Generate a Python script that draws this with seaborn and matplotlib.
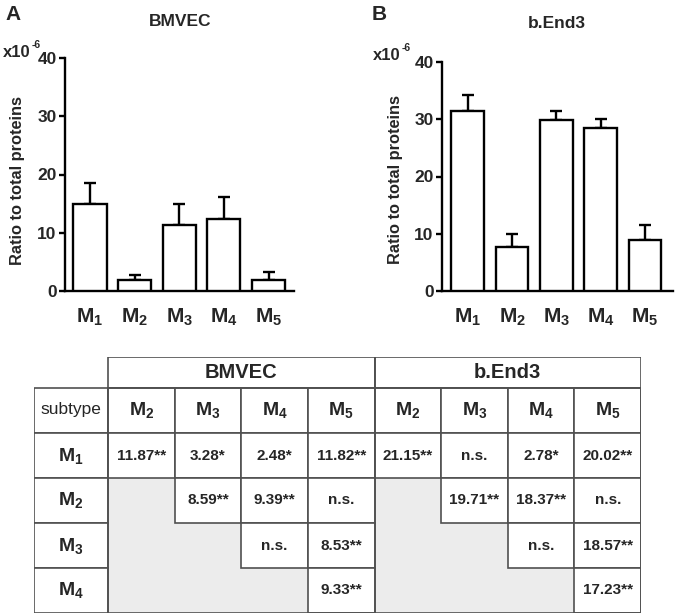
import matplotlib
matplotlib.use('Agg')
import matplotlib.pyplot as plt
from matplotlib import font_manager
from matplotlib.patches import Rectangle
import seaborn as sns
import pandas as pd
import numpy as np

# ---------------- data ----------------
subtypes = ['M1', 'M2', 'M3', 'M4', 'M5']
tick_labels = [r'$\mathbf{M_1}$', r'$\mathbf{M_2}$', r'$\mathbf{M_3}$',
               r'$\mathbf{M_4}$', r'$\mathbf{M_5}$']
bmvec_mean = [14.9, 1.9, 11.4, 12.3, 1.9]
bmvec_err = [3.7, 0.9, 3.5, 3.8, 1.3]
bend3_mean = [31.5, 7.6, 29.9, 28.4, 8.9]
bend3_err = [2.7, 2.4, 1.5, 1.7, 2.6]
yticks = [0, 10, 20, 30, 40]

table_groups = ['BMVEC', 'b.End3']
row_labels = [r'$\mathbf{M_1}$', r'$\mathbf{M_2}$', r'$\mathbf{M_3}$', r'$\mathbf{M_4}$']
col_labels = [r'$\mathbf{M_2}$', r'$\mathbf{M_3}$', r'$\mathbf{M_4}$', r'$\mathbf{M_5}$']
bmvec_table = [['11.87**', '3.28*', '2.48*', '11.82**'],
               ['', '8.59**', '9.39**', 'n.s.'],
               ['', '', 'n.s.', '8.53**'],
               ['', '', '', '9.33**']]
bend3_table = [['21.15**', 'n.s.', '2.78*', '20.02**'],
               ['', '19.71**', '18.37**', 'n.s.'],
               ['', '', 'n.s.', '18.57**'],
               ['', '', '', '17.23**']]

# ---------------- style ----------------
sns.set_style('ticks')
plt.rcParams['font.family'] = ['Liberation Sans', 'DejaVu Sans']
plt.rcParams['mathtext.fontset'] = 'custom'
plt.rcParams['mathtext.rm'] = 'Liberation Sans'
plt.rcParams['mathtext.bf'] = 'Liberation Sans:bold'
plt.rcParams['mathtext.it'] = 'Liberation Sans:italic'

try:
    font_manager.findfont('Liberation Sans Narrow', fallback_to_default=False)
    narrow = ['Liberation Sans Narrow', 'Liberation Sans']
except Exception:
    narrow = ['Liberation Sans']

W, H = 675, 616
fig = plt.figure(figsize=(W / 100, H / 100), dpi=100)
fig.patch.set_facecolor('white')


def fx(x):
    return x / W


def fy(y):
    return 1 - y / H


def bar_panel(left, right, top, bottom, means, errs, xlim, label_xy):
    ax = fig.add_axes([fx(left), fy(bottom), fx(right - left), (bottom - top) / H])
    df = pd.DataFrame({'subtype': subtypes, 'value': means})
    sns.barplot(data=df, x='subtype', y='value', ax=ax, color='white',
                saturation=1, edgecolor='black', linewidth=1.7, width=0.74,
                errorbar=None, zorder=3)
    ax.errorbar(np.arange(len(means)), means, yerr=[np.zeros(len(errs)), errs],
                fmt='none', ecolor='black', elinewidth=1.7, capsize=4.2,
                capthick=1.7, zorder=2)
    ax.set_ylim(0, 40)
    ax.set_xlim(*xlim)
    ax.set_yticks(yticks)
    ax.set_yticklabels([str(t) for t in yticks], fontweight='bold',
                       fontsize=12.5, family=narrow)
    ax.set_xticks(np.arange(len(subtypes)))
    ax.set_xticklabels(tick_labels, fontsize=15)
    ax.set_xlabel('')
    ax.set_ylabel('Ratio to total proteins', fontweight='bold', fontsize=11.8,
                  family=narrow)
    ax.yaxis.set_label_coords(*label_xy)
    sns.despine(ax=ax)
    for s in ['left', 'bottom']:
        ax.spines[s].set_linewidth(1.7)
        ax.spines[s].set_color('black')
    ax.tick_params(axis='y', length=4, width=1.7, color='black', pad=2)
    ax.tick_params(axis='x', length=0, pad=11)
    ax.set_facecolor('none')
    return ax


bar_panel(65, 294, 58, 291, bmvec_mean, bmvec_err, (-0.56, 4.57), (-0.175, 0.476))
bar_panel(442, 673, 62, 291, bend3_mean, bend3_err, (-0.58, 4.63), (-0.168, 0.485))

# panel letters, titles, multipliers
fig.text(fx(5), fy(15), 'A', fontsize=15, fontweight='bold', va='center', ha='left')
fig.text(fx(372), fy(15), 'B', fontsize=15, fontweight='bold', va='center', ha='left')
fig.text(fx(180), fy(21), 'BMVEC', fontsize=12.5, fontweight='bold', va='center', ha='center')
fig.text(fx(557), fy(23), 'b.End3', fontsize=12.5, fontweight='bold', va='center', ha='center')
for (bx, by) in [(3, 57), (373, 60)]:
    fig.text(fx(bx), fy(by), 'x10', fontsize=12, fontweight='bold', va='baseline', ha='left')
    fig.text(fx(bx + 29), fy(by - 9), '-6', fontsize=7.5, fontweight='bold', va='baseline', ha='left')

# ---------------- table ----------------
tx0, tx1, ty0, ty1 = 34, 641, 357, 613
axt = fig.add_axes([fx(tx0), fy(ty1), fx(tx1 - tx0), (ty1 - ty0) / H])
axt.set_xlim(tx0, tx1)
axt.set_ylim(ty1, ty0)
axt.axis('off')

ncols = len(table_groups) * len(col_labels)
first_w = 74
cw = (tx1 - tx0 - first_w) / ncols
col_edges = [tx0, tx0 + first_w] + [tx0 + first_w + cw * (i + 1) for i in range(ncols)]
head_h = 31
rh = (ty1 - ty0 - head_h) / (len(row_labels) + 1)
row_edges = [ty0, ty0 + head_h] + [ty0 + head_h + rh * (i + 1) for i in range(len(row_labels) + 1)]

lc = '#505050'
lw = 1.2
gray = '#ececec'


def cell(x0, x1, y0, y1, fill='white', border=True):
    axt.add_patch(Rectangle((x0, y0), x1 - x0, y1 - y0, facecolor=fill,
                            edgecolor=lc if border else 'none', linewidth=lw,
                            zorder=2 if border else 1))


def put(x0, x1, y0, y1, s, **kw):
    axt.text((x0 + x1) / 2, (y0 + y1) / 2, s, ha='center', va='center', **kw)


# group headers
for g, name in enumerate(table_groups):
    x0 = col_edges[1 + g * len(col_labels)]
    x1 = col_edges[1 + (g + 1) * len(col_labels)]
    cell(x0, x1, row_edges[0], row_edges[1])
    put(x0, x1, row_edges[0], row_edges[1] + 1, name, fontsize=14.5, fontweight='bold')

# subtype header row
cell(col_edges[0], col_edges[1], row_edges[1], row_edges[2])
put(col_edges[0], col_edges[1], row_edges[1], row_edges[2] - 2, 'subtype', fontsize=12.5)
for g in range(len(table_groups)):
    for c, lab in enumerate(col_labels):
        k = 1 + g * len(col_labels) + c
        cell(col_edges[k], col_edges[k + 1], row_edges[1], row_edges[2])
        put(col_edges[k], col_edges[k + 1], row_edges[1], row_edges[2], lab, fontsize=14)

# body
tables = [bmvec_table, bend3_table]
for r, rlab in enumerate(row_labels):
    y0, y1 = row_edges[2 + r], row_edges[3 + r]
    cell(col_edges[0], col_edges[1], y0, y1)
    put(col_edges[0], col_edges[1], y0, y1, rlab, fontsize=14)
    for g, tab in enumerate(tables):
        for c in range(len(col_labels)):
            k = 1 + g * len(col_labels) + c
            x0, x1 = col_edges[k], col_edges[k + 1]
            if c < r:
                cell(x0, x1, y0, y1, fill=gray, border=False)
            else:
                cell(x0, x1, y0, y1)
                put(x0, x1, y0, y1, tab[r][c], fontsize=11, fontweight='bold')

# outer border of body
axt.add_patch(Rectangle((col_edges[1], row_edges[1]), col_edges[-1] - col_edges[1],
                        row_edges[-1] - row_edges[1], facecolor='none', edgecolor=lc,
                        linewidth=lw, zorder=3))
axt.plot([col_edges[5], col_edges[5]], [row_edges[0], row_edges[-1]], color=lc, lw=lw, zorder=3)

fig.savefig('out.png', dpi=100, facecolor='white')
